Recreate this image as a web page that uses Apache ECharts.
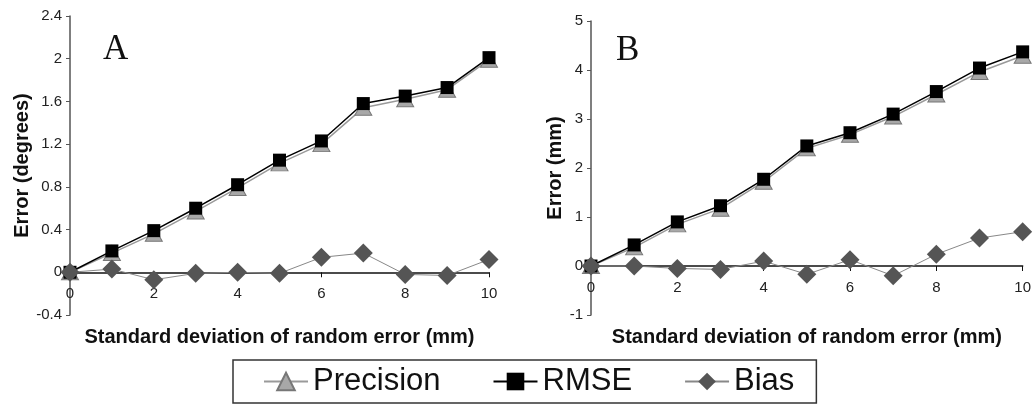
<!DOCTYPE html>
<html>
<head>
<meta charset="utf-8">
<script src="https://cdn.jsdelivr.net/npm/echarts@6/dist/echarts.min.js"></script>
<style>
  html, body { margin: 0; padding: 0; background: #fff; }
  #chart { width: 1034px; height: 406px; }
</style>
</head>
<body>
<div id="chart"></div>
<script>
// x = standard deviation of random error (mm)
const sdValues = [0, 1, 2, 3, 4, 5, 6, 7, 8, 9, 10];

// panel A: orientation error (degrees)
const precisionA = [0, 0.18, 0.36, 0.57, 0.79, 1.02, 1.2, 1.54, 1.62, 1.71, 1.99];
const rmseA = [0, 0.2, 0.39, 0.6, 0.82, 1.05, 1.23, 1.58, 1.65, 1.73, 2.01];
const biasA = [0, 0.03, -0.07, -0.01, 0, -0.01, 0.14, 0.18, -0.02, -0.03, 0.12];

// panel B: position error (mm)
const precisionB = [0, 0.38, 0.85, 1.17, 1.72, 2.4, 2.68, 3.05, 3.5, 3.96, 4.29];
const rmseB = [0, 0.43, 0.9, 1.23, 1.77, 2.45, 2.72, 3.1, 3.56, 4.04, 4.37];
const biasB = [0, 0, -0.05, -0.07, 0.1, -0.17, 0.13, -0.2, 0.24, 0.57, 0.7];

// y ranges of the two panels
const yRangeA = { min: -0.4, max: 2.4, interval: 0.4 };
const yRangeB = { min: -1, max: 5, interval: 1 };

const FONT = '"Liberation Sans", Arial, sans-serif';
const xTitle = 'Standard deviation of random error (mm)';

const grids = [
  { left: 70, top: 16, width: 419, height: 299 },
  { left: 591, top: 21, width: 435, height: 294 }
];

function pairs(ys) {
  return sdValues.map((x, i) => [x, ys[i]]);
}

// lift the x axis from the grid bottom up to y = 0
function zeroOffset(grid, range) {
  return -grid.height * (0 - range.min) / (range.max - range.min);
}

function xAxisFor(gridIndex, range, gap) {
  return {
    gridIndex,
    type: 'value',
    min: 0,
    max: 10,
    interval: 2,
    position: 'bottom',
    offset: zeroOffset(grids[gridIndex], range),
    name: xTitle,
    nameLocation: 'middle',
    nameGap: gap,
    nameTextStyle: { fontFamily: FONT, fontSize: 20, fontWeight: 'bold', color: '#111' },
    axisLine: { onZero: false, lineStyle: { color: '#111', width: 1.5 } },
    axisTick: { show: true, length: 5, lineStyle: { color: '#111' } },
    axisLabel: { fontFamily: FONT, fontSize: 15, color: '#222', margin: 14 },
    splitLine: { show: false }
  };
}

function yAxisFor(gridIndex, name, range, gap) {
  return {
    gridIndex,
    type: 'value',
    min: range.min,
    max: range.max,
    interval: range.interval,
    name,
    nameLocation: 'middle',
    nameGap: gap,
    nameTextStyle: { fontFamily: FONT, fontSize: 20, fontWeight: 'bold', color: '#111' },
    axisLine: { show: true, onZero: false, lineStyle: { color: '#555', width: 1.5 } },
    axisTick: { show: true, length: 4, lineStyle: { color: '#555' } },
    axisLabel: { fontFamily: FONT, fontSize: 15, color: '#222', margin: 8 },
    splitLine: { show: false }
  };
}

function seriesFor(idx, precision, rmse, bias) {
  return [
    {
      name: 'Precision',
      type: 'line',
      xAxisIndex: idx,
      yAxisIndex: idx,
      data: pairs(precision),
      symbol: 'triangle',
      symbolSize: [17, 15],
      lineStyle: { color: '#9a9a9a', width: 1.5 },
      itemStyle: { color: '#a8a8a8', borderColor: '#777', borderWidth: 1 }
    },
    {
      name: 'RMSE',
      type: 'line',
      xAxisIndex: idx,
      yAxisIndex: idx,
      data: pairs(rmse),
      symbol: 'rect',
      symbolSize: 13,
      lineStyle: { color: '#000', width: 1.5 },
      itemStyle: { color: '#000' }
    },
    {
      name: 'Bias',
      type: 'line',
      xAxisIndex: idx,
      yAxisIndex: idx,
      data: pairs(bias),
      symbol: 'diamond',
      symbolSize: 19,
      lineStyle: { color: '#888', width: 1 },
      itemStyle: { color: '#555' }
    }
  ];
}

const chart = echarts.init(document.getElementById('chart'), null, { renderer: 'canvas' });

chart.setOption({
  animation: false,
  backgroundColor: '#fff',
  textStyle: { fontFamily: FONT },
  grid: grids,
  xAxis: [xAxisFor(0, yRangeA, 55), xAxisFor(1, yRangeB, 61)],
  yAxis: [
    yAxisFor(0, 'Error (degrees)', yRangeA, 38),
    yAxisFor(1, 'Error (mm)', yRangeB, 26)
  ],
  legend: {
    data: ['Precision', 'RMSE', 'Bias'],
    left: 233,
    top: 360,
    orient: 'horizontal',
    itemWidth: 44,
    itemHeight: 22,
    itemGap: 52,
    padding: [6, 22, 6, 30],
    borderColor: '#333',
    borderWidth: 1.5,
    borderRadius: 0,
    textStyle: { fontFamily: FONT, fontSize: 31, color: '#111' },
    selectedMode: false
  },
  graphic: [
    { type: 'text', left: 103, top: 32, style: { text: 'A', font: '35px "Liberation Serif", "Times New Roman", serif', fill: '#111' } },
    { type: 'text', left: 616, top: 33, style: { text: 'B', font: '35px "Liberation Serif", "Times New Roman", serif', fill: '#111' } }
  ],
  series: [
    ...seriesFor(0, precisionA, rmseA, biasA),
    ...seriesFor(1, precisionB, rmseB, biasB)
  ]
});
</script>
</body>
</html>
